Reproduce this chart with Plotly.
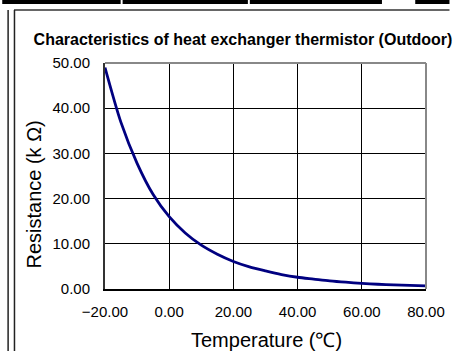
import plotly.graph_objects as go

# Data
temperature_c = [-20, -15, -10, -5, 0, 5, 10, 15, 20, 25, 30, 35, 40, 45, 50, 55, 60, 65, 70, 75, 80]
resistance_kohm = [49.0, 36.8, 27.8, 20.9, 16.0, 12.4, 9.7, 7.7, 6.1, 4.9, 4.0, 3.2, 2.6, 2.2, 1.8, 1.5, 1.25, 1.05, 0.9, 0.78, 0.67]

x_ticks = [-20, 0, 20, 40, 60, 80]
y_ticks = [0, 10, 20, 30, 40, 50]

title_text = "Characteristics of heat exchanger thermistor (Outdoor)"
x_title = "Temperature (℃)"
y_title = "Resistance (k Ω)"

W, H = 457, 351
L, R, T, B = 105, 433, 63, 289  # plot area in pixels


def px(xp):
    return (xp - L) / (R - L)


def py(yp):
    return (B - yp) / (B - T)


FONT = "Arial, Liberation Sans, sans-serif"

fig = go.Figure()
fig.add_trace(go.Scatter(
    x=temperature_c, y=resistance_kohm, mode="lines",
    line=dict(color="#000080", width=2.8, shape="spline", smoothing=0.8),
    showlegend=False, hoverinfo="skip",
))

shapes = []
# top & right plot border (gray)
shapes.append(dict(type="line", xref="paper", yref="paper", x0=0, x1=1, y0=1, y1=1,
                   line=dict(color="#888888", width=2), layer="above"))
shapes.append(dict(type="line", xref="paper", yref="paper", x0=1, x1=1, y0=0, y1=1,
                   line=dict(color="#888888", width=2), layer="above"))
# decorative page frame: top black band pieces
for x0, x1 in [(0, 121), (123, 251), (253, 388), (422, 457)]:
    shapes.append(dict(type="rect", xref="paper", yref="paper",
                       x0=px(x0), x1=px(x1), y0=py(4), y1=py(0),
                       fillcolor="black", line=dict(width=0)))
# thin gray line under band
shapes.append(dict(type="line", xref="paper", yref="paper",
                   x0=px(12), x1=px(457), y0=py(10), y1=py(10),
                   line=dict(color="#333333", width=1.5)))
# left double vertical lines
for xv in [6, 12.5]:
    shapes.append(dict(type="line", xref="paper", yref="paper",
                       x0=px(xv), x1=px(xv), y0=py(10), y1=py(351),
                       line=dict(color="#222222", width=1.5)))

fig.update_layout(
    width=W, height=H,
    margin=dict(l=L, r=W - R, t=T, b=H - B, pad=0),
    paper_bgcolor="white", plot_bgcolor="white",
    font=dict(family=FONT, color="black"),
    title=dict(text="<b>" + title_text + "</b>", font=dict(size=16, family=FONT, color="black"),
               xref="container", yref="container", x=243 / W, y=1 - 39 / H,
               xanchor="center", yanchor="middle"),
    shapes=shapes,
    annotations=[
        dict(text=x_title, xref="paper", yref="paper", x=px(270), y=py(340),
             xanchor="center", yanchor="middle", showarrow=False,
             font=dict(size=20, family=FONT, color="black")),
        dict(text=y_title, xref="paper", yref="paper", x=px(32), y=py(195),
             xanchor="center", yanchor="middle", showarrow=False, textangle=-90,
             font=dict(size=20, family=FONT, color="black")),
    ],
)

fig.update_xaxes(
    range=[-20, 80], tickvals=x_ticks, tickformat=".2f",
    showgrid=True, gridcolor="black", gridwidth=1,
    showline=True, linecolor="black", linewidth=2, mirror=False,
    zeroline=False, ticks="", ticklabelstandoff=8,
    tickfont=dict(size=15, family=FONT, color="black"),
)
fig.update_yaxes(
    range=[0, 50], tickvals=y_ticks, tickformat=".2f",
    showgrid=True, gridcolor="black", gridwidth=1,
    showline=True, linecolor="#333333", linewidth=2, mirror=False,
    zeroline=False, ticks="", ticklabelstandoff=10,
    tickfont=dict(size=15, family=FONT, color="black"),
)

fig.write_html(
    "out.html",
    config={"displayModeBar": False, "staticPlot": True},
    post_script="document.body.style.margin='0';document.body.style.overflow='hidden';",
)
